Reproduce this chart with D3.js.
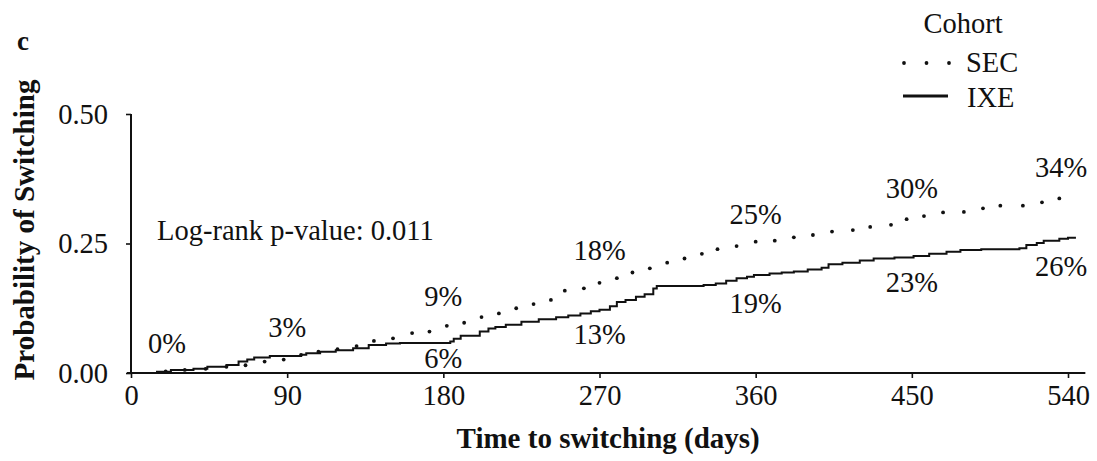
<!DOCTYPE html>
<html>
<head>
<meta charset="utf-8">
<script src="https://cdn.jsdelivr.net/npm/d3@7"></script>
<style>
  html, body { margin: 0; padding: 0; background: #fff; }
  svg { display: block; }
  text { font-family: "Liberation Serif", "Times New Roman", serif; fill: #111; }
</style>
</head>
<body>
<div id="chart"></div>
<script>
// Kaplan-Meier style cumulative probability of switching
const secDays = [0, 20, 31, 43, 55, 66, 77, 88, 98, 108, 119, 130, 140, 151, 162, 172, 182, 192, 202, 212,
  222, 232, 242, 250, 261, 270, 280, 289, 299, 309, 319, 329, 338, 349, 360, 371, 382, 393, 404, 416,
  426, 438, 447, 457, 468, 480, 491, 501, 514, 525, 535];
const secProb = [0, 0.003, 0.006, 0.008, 0.012, 0.015, 0.022, 0.026, 0.035, 0.041, 0.046, 0.052, 0.062, 0.067, 0.077, 0.080, 0.091, 0.097, 0.108, 0.115,
  0.125, 0.133, 0.141, 0.159, 0.1635, 0.174, 0.183, 0.194, 0.202, 0.213, 0.221, 0.230, 0.239, 0.245, 0.2535, 0.2555, 0.262, 0.2664, 0.273, 0.276,
  0.282, 0.286, 0.297, 0.303, 0.310, 0.311, 0.318, 0.323, 0.323, 0.3295, 0.337];

const ixeDays = [0, 15, 23, 36, 44, 55, 62, 67, 71, 80, 98, 101, 109, 118, 128, 137, 147, 155, 184, 186,
  190, 201, 206, 210, 216, 225, 235, 245, 252, 259, 265, 270, 276, 280, 285, 291, 296, 301, 303, 330,
  337, 343, 349, 355, 359, 368, 375, 382, 390, 398, 402, 410, 420, 428, 440, 451, 460, 470, 478, 490,
  512, 516, 522, 526, 535, 540, 544];
const ixeProb = [0, 0.0025, 0.006, 0.008, 0.012, 0.0155, 0.022, 0.026, 0.030, 0.033, 0.035, 0.038, 0.041, 0.044, 0.048, 0.054, 0.057, 0.058, 0.061, 0.066,
  0.072, 0.080, 0.086, 0.089, 0.093, 0.099, 0.104, 0.1075, 0.111, 0.115, 0.119, 0.122, 0.129, 0.137, 0.141, 0.147, 0.152, 0.163, 0.168, 0.170,
  0.173, 0.178, 0.183, 0.186, 0.189, 0.192, 0.194, 0.196, 0.200, 0.203, 0.210, 0.213, 0.217, 0.221, 0.223, 0.226, 0.230, 0.234, 0.2375, 0.239,
  0.241, 0.247, 0.251, 0.2555, 0.259, 0.261, 0.263];

// percentage annotations at the x ticks
const labelDays = [0, 90, 180, 270, 360, 450, 540];
const secPct = [0, 3, 9, 18, 25, 30, 34];
const ixePct = [null, null, 6, 13, 19, 23, 26];

const xTicks = [0, 90, 180, 270, 360, 450, 540];
const yTicks = [0, 0.25, 0.5];

const width = 1097, height = 461;
const margin = { top: 114, right: 29, bottom: 88, left: 131 };
const xEnd = 550;
const fs = '28.5px', fsBold = '29px';

const svg = d3.select('#chart').append('svg').attr('width', width).attr('height', height);

const x = d3.scaleLinear().domain([0, 540]).range([margin.left, 1068]);
const y = d3.scaleLinear().domain([0, 0.5]).range([height - margin.bottom, margin.top]);

// axes
const xAxis = svg.append('g')
  .attr('transform', `translate(0, ${y(0)})`)
  .call(d3.axisBottom(x).tickValues(xTicks).tickSize(5).tickPadding(7).tickFormat(d3.format('d')));
xAxis.select('.domain').remove();
xAxis.selectAll('line').attr('stroke', '#111').attr('stroke-width', 1.6);
xAxis.selectAll('text').style('font-size', fs).attr('fill', '#111');
svg.append('line')
  .attr('x1', x(0) - 4).attr('x2', x(xEnd))
  .attr('y1', y(0)).attr('y2', y(0))
  .attr('stroke', '#111').attr('stroke-width', 2);

const yAxis = svg.append('g')
  .attr('transform', `translate(${x(0)}, 0)`)
  .call(d3.axisLeft(y).tickValues(yTicks).tickSize(5).tickPadding(18).tickFormat(d3.format('.2f')));
yAxis.select('.domain').remove();
yAxis.selectAll('line').attr('stroke', '#111').attr('stroke-width', 1.6);
yAxis.selectAll('text').style('font-size', fs).attr('fill', '#111');
svg.append('line')
  .attr('x1', x(0)).attr('x2', x(0))
  .attr('y1', y(0.5)).attr('y2', y(0) + 1)
  .attr('stroke', '#111').attr('stroke-width', 2);

// IXE: solid step curve
const ixe = ixeDays.map((d, i) => ({ t: d, p: ixeProb[i] }));
const step = d3.line().x(d => x(d.t)).y(d => y(d.p)).curve(d3.curveStepAfter);
svg.append('path')
  .datum(ixe)
  .attr('d', step)
  .attr('fill', 'none')
  .attr('stroke', '#111')
  .attr('stroke-width', 2);

// SEC: dotted
const sec = secDays.map((d, i) => ({ t: d, p: secProb[i] }));
svg.append('g').selectAll('circle')
  .data(sec.filter(d => d.t > 0))
  .enter()
  .append('circle')
  .attr('cx', d => x(d.t))
  .attr('cy', d => y(d.p))
  .attr('r', 1.9)
  .attr('fill', '#111');

// percentage labels
function labelX(i) {
  if (i === 0) return x(labelDays[i]) + 36;
  if (i === labelDays.length - 1) return x(labelDays[i]) - 7;
  return x(labelDays[i]);
}
svg.append('g').selectAll('text')
  .data(secPct)
  .enter()
  .append('text')
  .attr('x', (d, i) => labelX(i))
  .attr('y', d => y(d / 100) - 20)
  .attr('text-anchor', 'middle')
  .style('font-size', fs)
  .text(d => d + '%');

svg.append('g').selectAll('text')
  .data(ixePct.map((d, i) => ({ v: d, i: i })).filter(d => d.v !== null))
  .enter()
  .append('text')
  .attr('x', d => labelX(d.i))
  .attr('y', d => Math.min(y(d.v / 100) + 38, y(0) - 5))
  .attr('text-anchor', 'middle')
  .style('font-size', fs)
  .text(d => d.v + '%');

// log-rank annotation
svg.append('text')
  .attr('x', x(15))
  .attr('y', y(0.256))
  .style('font-size', fs)
  .text('Log-rank p-value: 0.011');

// titles
svg.append('text')
  .attr('x', 17).attr('y', 50)
  .style('font-size', '27px').style('font-weight', 'bold')
  .text('c');

svg.append('text')
  .attr('transform', 'translate(34, 230) rotate(-90)')
  .attr('text-anchor', 'middle')
  .style('font-size', fsBold).style('font-weight', 'bold')
  .text('Probability of Switching');

svg.append('text')
  .attr('x', (x(0) + x(xEnd)) / 2).attr('y', 448)
  .attr('text-anchor', 'middle')
  .style('font-size', fsBold).style('font-weight', 'bold')
  .text('Time to switching (days)');

// legend
const legend = svg.append('g');
legend.append('text')
  .attr('x', 963).attr('y', 33)
  .attr('text-anchor', 'middle')
  .style('font-size', fs)
  .text('Cohort');
legend.selectAll('circle')
  .data([0, 1, 2])
  .enter()
  .append('circle')
  .attr('cx', d => 904 + d * 22.5)
  .attr('cy', 63)
  .attr('r', 1.9)
  .attr('fill', '#111');
legend.append('text')
  .attr('x', 966).attr('y', 72)
  .style('font-size', fs)
  .text('SEC');
legend.append('line')
  .attr('x1', 903).attr('x2', 948)
  .attr('y1', 96).attr('y2', 96)
  .attr('stroke', '#111').attr('stroke-width', 3);
legend.append('text')
  .attr('x', 967).attr('y', 107)
  .style('font-size', fs)
  .text('IXE');
</script>
</body>
</html>
